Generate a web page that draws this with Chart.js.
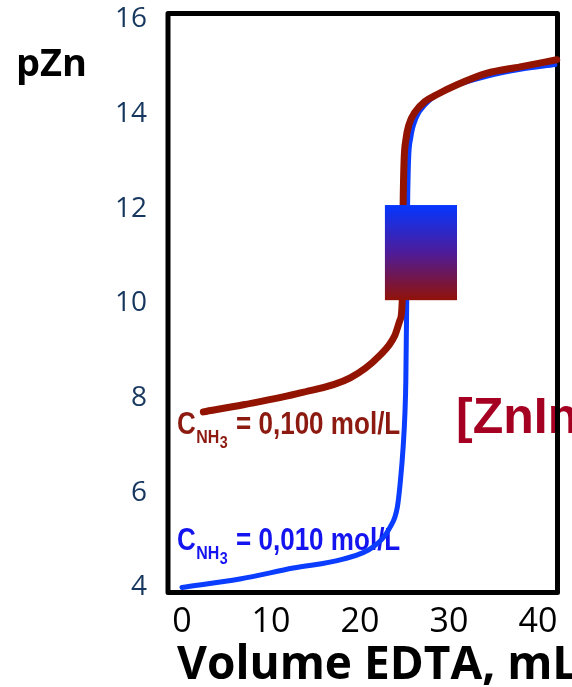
<!DOCTYPE html>
<html>
<head>
<meta charset="utf-8">
<script src="https://cdn.jsdelivr.net/npm/chart.js@4/dist/chart.umd.min.js"></script>
<style>
  html, body { margin: 0; padding: 0; background: #ffffff; overflow: hidden; }
  #wrap { width: 572px; height: 687px; }
</style>
</head>
<body>
<div id="wrap"><canvas id="c" width="572" height="687"></canvas></div>
<script>
// ---- data ----
const xTicks = [0, 10, 20, 30, 40];
const yTicks = [4, 6, 8, 10, 12, 14, 16];

// C(NH3) = 0,100 mol/L  (dark red curve)
const volHighNH3 = [2.4, 6.9, 13.3, 18.9, 22.2, 23.9, 24.5, 24.75, 24.8, 24.85, 24.95, 25.15, 25.5, 26.2, 27.3, 28.6, 30.9, 34.2, 38.0, 42.1];
const pZnHighNH3 = [7.71, 7.86, 8.11, 8.43, 8.90, 9.32, 9.65, 10.07, 11.1, 12.12, 13.0, 13.45, 13.78, 14.05, 14.27, 14.41, 14.62, 14.86, 15.0, 15.15];

// C(NH3) = 0,010 mol/L  (blue curve)
const volLowNH3 = [0, 6.5, 12.5, 18.1, 21.5, 23.4, 24.2, 24.55, 24.85, 25.05, 25.15, 25.25, 25.3, 25.35, 25.45, 25.7, 26.3, 27.4, 29.7, 34.2, 38.0, 41.9];
const pZnLowNH3 = [4.0, 4.18, 4.41, 4.60, 4.86, 5.28, 5.70, 6.27, 6.97, 7.69, 8.38, 10.07, 11.1, 12.1, 13.0, 13.5, 13.92, 14.22, 14.52, 14.80, 14.95, 15.05];

// indicator transition range box
const indicatorVol = [22.8, 30.9];
const indicatorPZn = [10.07, 12.08];

const labelHigh = "0,100 mol/L";
const labelLow = "0,010 mol/L";

// ---- styling ----
const BROWN = '#921400';
const BLUE = '#0A3DFF';
const TXT_BROWN = '#8C1A10';
const TXT_BLUE = '#1414F0';
const SANS = '"Liberation Sans", Arial, sans-serif';
const SQUEEZE = 0.84;

function toPoints(xs, ys) { return xs.map((x, i) => ({ x: x, y: ys[i] })); }

// narrow bold text (horizontally condensed)
function narrowText(ctx, txt, x, y, size) {
  ctx.save();
  ctx.translate(x, y);
  ctx.scale(SQUEEZE, 1);
  ctx.font = 'bold ' + size + 'px ' + SANS;
  ctx.fillText(txt, 0, 0);
  const w = ctx.measureText(txt).width * SQUEEZE;
  ctx.restore();
  return w;
}

function drawCLabel(ctx, x, y, value, color) {
  ctx.save();
  ctx.fillStyle = color;
  ctx.textBaseline = 'alphabetic';
  ctx.textAlign = 'left';
  let cx = x + narrowText(ctx, 'C', x, y, 31);
  cx += 0.5;
  cx += narrowText(ctx, 'NH', cx, y + 9, 19);
  cx += 0.5;
  narrowText(ctx, '3', cx, y + 14, 17);
  narrowText(ctx, '= ' + value, x + 59, y, 31);
  ctx.restore();
}

const decor = {
  id: 'decor',
  beforeDatasetsDraw(chart) {
    const ctx = chart.ctx;
    const a = chart.chartArea;
    // annotations
    drawCLabel(ctx, 177, 434, labelHigh, TXT_BROWN);
    drawCLabel(ctx, 177, 550, labelLow, TXT_BLUE);
    ctx.save();
    ctx.fillStyle = '#A50021';
    ctx.font = 'bold 50px ' + SANS;
    ctx.textBaseline = 'alphabetic';
    ctx.fillText('[ZnInd]', 456, 433);
    ctx.restore();
    // frame
    ctx.save();
    ctx.strokeStyle = '#000000';
    ctx.lineWidth = 5;
    ctx.lineJoin = 'round';
    ctx.strokeRect(a.left, a.top, a.right - a.left, a.bottom - a.top);
    ctx.restore();
  },
  afterDatasetsDraw(chart) {
    const ctx = chart.ctx;
    const xs = chart.scales.x, ys = chart.scales.y;
    const x0 = xs.getPixelForValue(indicatorVol[0]);
    const x1 = xs.getPixelForValue(indicatorVol[1]);
    const y0 = ys.getPixelForValue(indicatorPZn[1]);
    const y1 = ys.getPixelForValue(indicatorPZn[0]);
    const g = ctx.createLinearGradient(0, y0, 0, y1);
    g.addColorStop(0, '#0436FF');
    g.addColorStop(0.5, '#4E1C9A');
    g.addColorStop(1, '#911208');
    ctx.save();
    ctx.fillStyle = g;
    ctx.fillRect(x0, y0, x1 - x0, y1 - y0);
    ctx.restore();
  },
  afterDraw(chart) {
    const ctx = chart.ctx;
    ctx.save();
    ctx.fillStyle = '#000000';
    ctx.textBaseline = 'alphabetic';
    ctx.font = 'bold 38px "Open Sans", sans-serif';
    ctx.fillText('pZn', 16, 76);
    ctx.font = 'bold 46px "Open Sans", sans-serif';
    ctx.fillText('Volume EDTA, mL', 177, 679);
    ctx.restore();
  }
};

new Chart(document.getElementById('c'), {
  type: 'line',
  data: {
    datasets: [
      {
        label: 'CNH3 = ' + labelHigh,
        data: toPoints(volHighNH3, pZnHighNH3),
        borderColor: BROWN,
        borderWidth: 7,
        borderCapStyle: 'round',
        borderJoinStyle: 'round',
        pointRadius: 0,
        cubicInterpolationMode: 'monotone',
        clip: false
      },
      {
        label: 'CNH3 = ' + labelLow,
        data: toPoints(volLowNH3, pZnLowNH3),
        borderColor: BLUE,
        borderWidth: 5,
        borderCapStyle: 'round',
        borderJoinStyle: 'round',
        pointRadius: 0,
        cubicInterpolationMode: 'monotone',
        clip: false
      }
    ]
  },
  options: {
    responsive: false,
    animation: false,
    devicePixelRatio: 1,
    layout: { padding: { left: 0, top: 13.5, right: 14.5, bottom: 0 } },
    plugins: { legend: { display: false }, tooltip: { enabled: false } },
    scales: {
      x: {
        type: 'linear',
        min: -1.57,
        max: 42.19,
        grid: { display: false, drawTicks: false, tickLength: 0 },
        border: { display: false },
        afterBuildTicks(s) { s.ticks = xTicks.map(v => ({ value: v })); },
        afterFit(s) { s.height = 94.5; s.paddingLeft = 0; s.paddingRight = 0; },
        ticks: {
          color: '#000000',
          padding: 9,
          maxRotation: 0,
          autoSkip: false,
          font: { family: '"Open Sans", sans-serif', size: 34 }
        }
      },
      y: {
        type: 'linear',
        min: 3.894,
        max: 16.127,
        grid: { display: false, drawTicks: false, tickLength: 0 },
        border: { display: false },
        afterBuildTicks(s) { s.ticks = yTicks.map(v => ({ value: v })); },
        afterFit(s) { s.width = 168; s.paddingTop = 0; s.paddingBottom = 0; },
        ticks: {
          color: '#17375E',
          padding: 21,
          autoSkip: false,
          font: { family: '"Open Sans", sans-serif', size: 28 }
        }
      }
    }
  },
  plugins: [decor]
});
</script>
</body>
</html>
